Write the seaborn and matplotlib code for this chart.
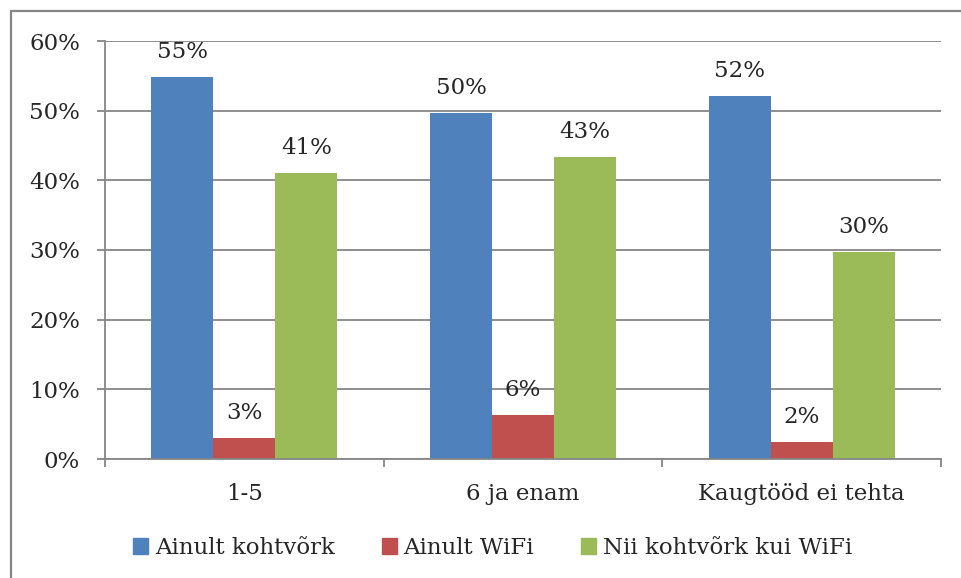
import pandas as pd
import seaborn as sns
import matplotlib.pyplot as plt
from matplotlib.patches import Rectangle
from matplotlib.ticker import PercentFormatter

# data
groups = ["1-5", "6 ja enam", "Kaugtööd ei tehta"]
series = ["Ainult kohtvõrk", "Ainult WiFi", "Nii kohtvõrk kui WiFi"]
kohtvork = [0.549, 0.497, 0.521]
wifi = [0.030, 0.063, 0.024]
molemad = [0.410, 0.434, 0.297]
colors = ["#4F81BD", "#C0504D", "#9BBB59"]

df = pd.DataFrame({
    "grupp": groups * 3,
    "seeria": [s for s in series for _ in groups],
    "osakaal": kohtvork + wifi + molemad,
})

sns.set_style("white")
plt.rcParams["font.family"] = ["DejaVu Serif"]
grid_col = "#868686"
fs = 16.5

fig = plt.figure(figsize=(9.62, 5.78), dpi=100)
ax = fig.add_axes([105 / 962, 119 / 578, 836 / 962, 418 / 578])

sns.barplot(data=df, x="grupp", y="osakaal", hue="seeria",
            palette=colors, width=2 / 3, gap=0, saturation=1,
            linewidth=0, legend=False, ax=ax)

for cont in ax.containers:
    labels = [f"{round(b.get_height() * 100)}%" for b in cont]
    ax.bar_label(cont, labels=labels, padding=10, fontsize=fs)

ax.set_ylim(0, 0.6)
ax.set_xlim(-0.5, 2.5)
ax.set_yticks([0, 0.1, 0.2, 0.3, 0.4, 0.5, 0.6])
ax.yaxis.set_major_formatter(PercentFormatter(1.0, decimals=0))
ax.yaxis.grid(True, color=grid_col, linewidth=1.3)
ax.set_axisbelow(True)
ax.set(xlabel="", ylabel="")

# category ticks at the group borders, labels in the middle
ax.set_xticks([0, 1, 2])
ax.set_xticks([-0.5, 0.5, 1.5, 2.5], minor=True)
ax.tick_params(axis="x", which="major", length=0, pad=17, labelsize=fs)
ax.tick_params(axis="x", which="minor", length=6, width=1.3, color=grid_col,
               bottom=True, direction="out")
ax.tick_params(axis="y", length=6, width=1.3, color=grid_col, left=True,
               direction="out", pad=12, labelsize=fs)

for side in ["top", "right"]:
    ax.spines[side].set_visible(False)
for side in ["left", "bottom"]:
    ax.spines[side].set_color(grid_col)
    ax.spines[side].set_linewidth(1.3)

handles = [Rectangle((0, 0), 1, 1, color=c) for c in colors]
fig.legend(handles, series, loc="center", ncol=3, frameon=False,
           bbox_to_anchor=(0.512, 1 - 548 / 578), fontsize=fs,
           handlelength=0.65, handleheight=0.65, handletextpad=0.3,
           columnspacing=2.05)

# outer chart frame
fig.patches.append(Rectangle((11 / 962, -0.1), 1.2, (578 - 11) / 578 + 0.1,
                             transform=fig.transFigure, fill=False,
                             edgecolor=grid_col, linewidth=1.6))

fig.savefig("out.png", dpi=100)
